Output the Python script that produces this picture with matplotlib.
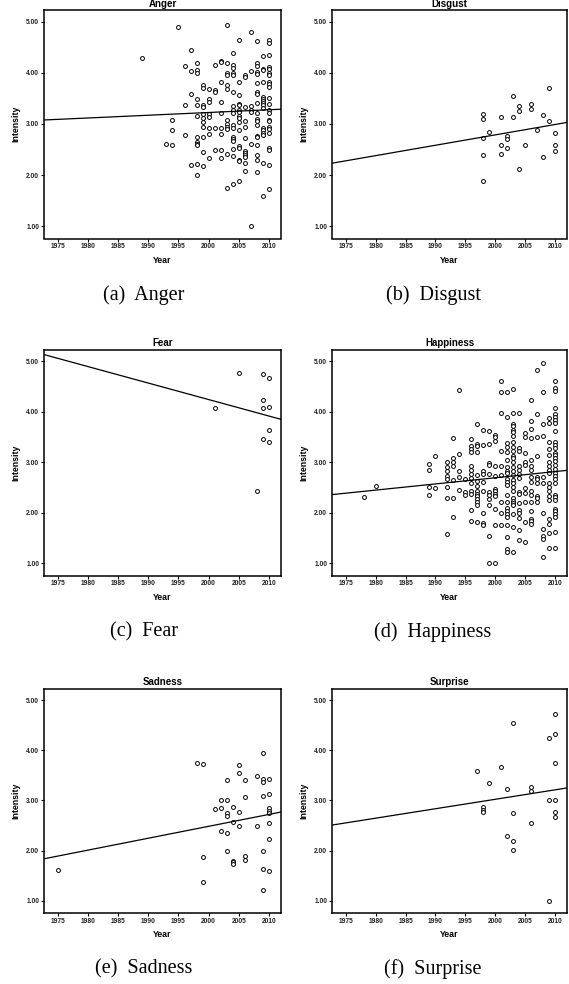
import matplotlib
matplotlib.use("Agg")
import matplotlib.pyplot as plt
import numpy as np

# ── Data ──────────────────────────────────────────────────────────────────────
# intensity ratings grouped by year, one dict per emotion

anger = {
    1989: [4.29],
    1993: [2.61],
    1994: [3.08, 2.88, 2.59],
    1995: [4.90],
    1996: [4.13, 3.38, 2.79],
    1997: [4.45, 4.04, 3.58, 2.20],
    1998: [4.19, 4.06, 4.00, 3.48, 3.38, 3.16, 2.75, 2.64, 2.61, 2.58, 2.22, 2.00],
    1999: [3.77, 3.71, 3.37, 3.34, 3.19, 3.11, 3.04, 2.95, 2.75, 2.46, 2.18],
    2000: [3.69, 3.48, 3.44, 3.19, 3.14, 2.92, 2.80, 2.34],
    2001: [4.16, 3.66, 3.63, 2.92, 2.50],
    2002: [4.24, 4.22, 3.82, 3.44, 3.21, 2.93, 2.80, 2.50, 2.33],
    2003: [4.93, 4.19, 4.00, 3.96, 3.76, 3.69, 3.07, 3.00, 2.95, 2.90, 2.41, 1.75],
    2004: [4.39, 4.15, 4.09, 4.00, 3.96, 3.63, 3.36, 3.27, 3.21, 2.99, 2.93, 2.75,
           2.70, 2.66, 2.51, 2.38, 1.83],
    2005: [4.65, 3.82, 3.56, 3.40, 3.38, 3.28, 3.23, 3.16, 3.12, 3.04, 2.88, 2.56,
           2.53, 2.29, 2.27, 1.89],
    2006: [3.96, 3.92, 3.33, 3.06, 2.95, 2.72, 2.47, 2.43, 2.39, 2.35, 2.23, 2.09],
    2007: [4.80, 4.04, 3.36, 3.28, 3.23, 2.60, 1.00],
    2008: [4.62, 4.19, 4.13, 4.02, 3.97, 3.80, 3.63, 3.58, 3.41, 3.21, 3.10, 3.05,
           2.99, 2.77, 2.74, 2.58, 2.40, 2.29, 2.06],
    2009: [4.33, 4.07, 4.05, 3.83, 3.53, 3.49, 3.45, 3.41, 3.38, 3.32, 2.92, 2.88,
           2.83, 2.79, 2.23, 1.59],
    2010: [4.64, 4.59, 4.35, 4.12, 4.07, 3.99, 3.95, 3.82, 3.79, 3.73, 3.51, 3.39,
           3.27, 3.21, 3.08, 3.05, 2.95, 2.90, 2.83, 2.53, 2.50, 2.20, 1.73],
}

disgust = {
    1998: [3.20, 3.10, 2.72, 2.39, 1.88],
    1999: [2.84],
    2001: [3.13, 2.58, 2.41],
    2002: [2.77, 2.71, 2.54],
    2003: [3.55, 3.14],
    2004: [3.35, 3.25, 2.12],
    2005: [2.59],
    2006: [3.40, 3.29],
    2007: [2.88],
    2008: [3.17, 2.36],
    2009: [3.71, 3.06],
    2010: [2.82, 2.59, 2.47],
}

fear = {
    2001: [4.07],
    2005: [4.77],
    2008: [2.44],
    2009: [4.75, 4.23, 4.08, 3.46],
    2010: [4.67, 4.10, 3.63, 3.40],
}

happiness = {
    1978: [2.31],
    1980: [2.54],
    1989: [2.96, 2.85, 2.52, 2.36],
    1990: [3.13, 2.50],
    1992: [3.00, 2.91, 2.82, 2.72, 2.67, 2.52, 2.30, 1.58],
    1993: [3.47, 3.08, 3.01, 2.93, 2.64, 2.30, 1.92],
    1994: [4.42, 3.17, 2.83, 2.71, 2.46],
    1995: [2.66, 2.42, 2.36],
    1996: [3.45, 3.32, 3.27, 3.21, 2.92, 2.84, 2.77, 2.68, 2.58, 2.44, 2.38, 2.06, 1.83],
    1997: [3.76, 3.37, 3.33, 3.21, 2.75, 2.62, 2.53, 2.44, 2.38, 2.34, 2.27, 2.21,
           2.15, 1.82],
    1998: [3.63, 3.34, 2.82, 2.77, 2.61, 2.44, 1.99, 1.80, 1.76],
    1999: [3.61, 3.36, 2.99, 2.95, 2.76, 2.41, 2.36, 2.27, 2.16, 1.55, 1.00],
    2000: [3.54, 3.49, 3.42, 2.93, 2.73, 2.48, 2.43, 2.38, 2.33, 2.07, 1.75, 1.00],
    2001: [4.60, 4.39, 3.97, 3.23, 2.93, 2.74, 2.21, 1.99, 1.75],
    2002: [4.38, 3.89, 3.38, 3.30, 3.21, 3.05, 2.90, 2.83, 2.79, 2.67, 2.61, 2.55,
           2.36, 2.21, 2.10, 2.04, 1.98, 1.92, 1.75, 1.53, 1.29, 1.23],
    2003: [4.44, 3.97, 3.75, 3.72, 3.64, 3.60, 3.51, 3.40, 3.30, 3.23, 3.13, 3.09,
           3.01, 2.91, 2.83, 2.74, 2.65, 2.58, 2.51, 2.43, 2.30, 2.23, 2.19, 2.15,
           1.98, 1.71, 1.23],
    2004: [3.97, 3.29, 3.22, 2.93, 2.85, 2.76, 2.68, 2.42, 2.38, 2.20, 2.06, 1.99,
           1.90, 1.66, 1.47],
    2005: [3.58, 3.50, 3.18, 3.00, 2.95, 2.50, 2.39, 2.21, 1.82, 1.42],
    2006: [4.23, 3.82, 3.65, 3.48, 3.04, 2.93, 2.85, 2.71, 2.61, 2.44, 2.36, 2.21,
           2.03, 1.87, 1.83, 1.78],
    2007: [4.83, 3.95, 3.50, 3.12, 2.71, 2.67, 2.59, 2.33, 2.30, 2.21],
    2008: [4.96, 4.39, 3.75, 3.52, 2.71, 2.59, 1.99, 1.68, 1.55, 1.49, 1.13],
    2009: [3.87, 3.77, 3.40, 3.26, 3.15, 3.01, 2.92, 2.85, 2.79, 2.58, 2.51, 2.43,
           2.34, 2.25, 1.87, 1.78, 1.60, 1.31],
    2010: [4.60, 4.47, 4.40, 4.08, 3.95, 3.89, 3.83, 3.77, 3.62, 3.40, 3.34, 3.28,
           3.19, 3.14, 3.09, 3.03, 2.95, 2.87, 2.79, 2.73, 2.66, 2.58, 2.36, 2.31,
           2.25, 2.07, 2.03, 1.98, 1.92, 1.63, 1.31],
}

sadness = {
    1975: [1.62],
    1998: [3.75],
    1999: [3.73, 1.88, 1.38],
    2001: [2.84],
    2002: [3.00, 2.86, 2.40],
    2003: [3.40, 3.00, 2.75, 2.70, 2.36, 2.00],
    2004: [2.87, 2.57, 1.80, 1.77, 1.73],
    2005: [3.70, 3.54, 2.78, 2.50],
    2006: [3.40, 3.07, 1.89, 1.82],
    2008: [3.48, 2.50],
    2009: [3.94, 3.43, 3.36, 3.08, 2.00, 1.63, 1.21],
    2010: [3.42, 3.13, 2.85, 2.80, 2.75, 2.55, 2.24, 1.59],
}

surprise = {
    1997: [3.59],
    1998: [2.87, 2.82, 2.78],
    1999: [3.35],
    2001: [3.66],
    2002: [3.22, 2.29],
    2003: [4.54, 2.76, 2.20, 2.01],
    2006: [3.26, 3.18, 2.56],
    2009: [4.24, 3.01, 1.00],
    2010: [4.73, 4.32, 3.74, 3.01, 2.78, 2.67],
}

emotions = ["Anger", "Disgust", "Fear", "Happiness", "Sadness", "Surprise"]
panel_data = [anger, disgust, fear, happiness, sadness, surprise]
captions = ["(a)  Anger", "(b)  Disgust", "(c)  Fear",
            "(d)  Happiness", "(e)  Sadness", "(f)  Surprise"]

# linear fit lines as drawn in the figure: slope per year and value at 2000
fit_slope = [0.00537, 0.0203, -0.0326, 0.0122, 0.0237, 0.0188]
fit_at_2000 = [3.225, 2.787, 4.24, 2.693, 2.486, 3.024]

year_ticks = [1975, 1980, 1985, 1990, 1995, 2000, 2005, 2010]
intensity_ticks = [1.0, 2.0, 3.0, 4.0, 5.0]

# ── Layout (pixels of the 569 x 984 output) ───────────────────────────────────

W, H = 569, 984
COL_LEFT = [44, 332]
COL_RIGHT = [281, 567]
ROW_TOP = [10, 349.5, 688.5]
ROW_BOTTOM = [238.5, 575.5, 913]
CAPTION_X = [144, 433]
CAPTION_Y = [295, 632, 969]

X_LIM = (1972.7, 2012.0)
Y_LIM = (0.76, 5.23)

SANS = ["Liberation Sans", "DejaVu Sans"]
SERIF = ["Liberation Serif", "DejaVu Serif"]

fig = plt.figure(figsize=(W / 100, H / 100), dpi=100)

for i, (name, pts) in enumerate(zip(emotions, panel_data)):
    row, col = divmod(i, 2)
    left, right = COL_LEFT[col], COL_RIGHT[col]
    top, bottom = ROW_TOP[row], ROW_BOTTOM[row]
    ax = fig.add_axes([left / W, 1 - bottom / H, (right - left) / W, (bottom - top) / H])

    xs = [yr for yr, vals in pts.items() for _ in vals]
    ys = [v for vals in pts.values() for v in vals]
    ax.plot(xs, ys, linestyle="none", marker="o", markersize=2.8,
            markerfacecolor="white", markeredgecolor="black", markeredgewidth=0.7)

    fx = np.array(X_LIM)
    ax.plot(fx, fit_at_2000[i] + fit_slope[i] * (fx - 2000), color="black", linewidth=0.9)

    ax.set_xlim(*X_LIM)
    ax.set_ylim(*Y_LIM)
    ax.set_xticks(year_ticks)
    ax.set_yticks(intensity_ticks)
    ax.set_yticklabels([f"{t:.2f}" for t in intensity_ticks])
    ax.tick_params(direction="out", length=2.2, width=0.8, pad=1.2, labelsize=4.8)
    for lab in ax.get_xticklabels() + ax.get_yticklabels():
        lab.set_family(SANS)
        lab.set_fontweight("bold")
        lab.set_color("#222222")
    for sp in ax.spines.values():
        sp.set_linewidth(1.1)

    ax.set_title(name, fontsize=7, fontweight="bold", family=SANS, pad=2.5)
    ax.set_xlabel("Year", fontsize=6.3, fontweight="bold", family=SANS, labelpad=4)
    ax.set_ylabel("Intensity", fontsize=6.3, fontweight="bold", family=SANS, labelpad=4)

    fig.text(CAPTION_X[col] / W, 1 - CAPTION_Y[row] / H, captions[i],
             ha="center", va="center", fontsize=14.5, family=SERIF)

fig.savefig("out.png", dpi=100)
